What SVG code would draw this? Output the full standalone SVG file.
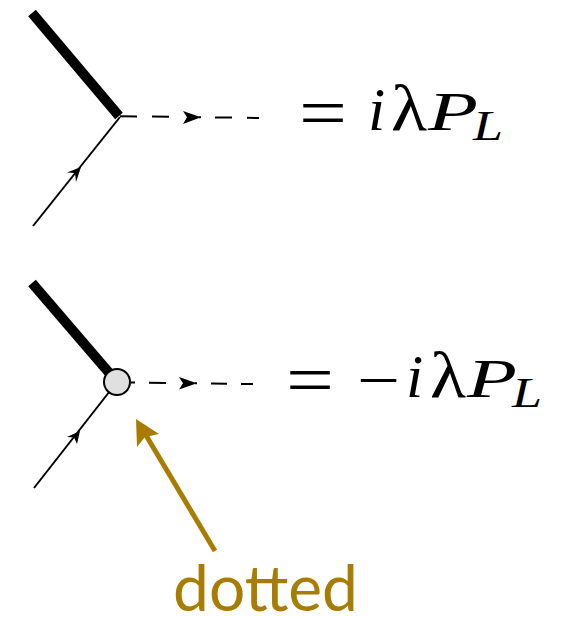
<svg xmlns="http://www.w3.org/2000/svg" width="572" height="617" viewBox="0 0 572 617">
<style>
.thick{stroke:#000;stroke-width:10;fill:none}
.thin{stroke:#000;stroke-width:2;fill:none}
.dash{stroke:#000;stroke-width:2;fill:none}
.m{font-family:"Liberation Serif","DejaVu Serif",serif;fill:#000}
.eq{font-size:72px}
.minus{font-size:62px}
.i{font-size:62px;font-style:italic}
.l{font-size:66px}
.p{font-size:55px;font-style:italic}
.sub{font-size:42px;font-style:italic}
.gold{fill:#a87c00}
</style>
<rect width="572" height="617" fill="#fff"/>
<g id="connectors">
<path class="thick" d="M32 13L119 116"/>
<path class="thin" d="M33 226L120 117"/>
<path class="dash" d="M120 116.200L137 116.400M152 116.600L169 116.800M199 117.200L201 117.200M215 117.400L232 117.600M247 117.800L259 118"/>
<polygon points="201,117.300 183,111 187,117.300 183,124"/>
<polygon points="81,167 67,172.500 75,173 76,182"/>
<path class="thick" d="M32 283L117 382"/>
<path class="thin" d="M34 488L117 382"/>
<path class="dash" d="M131 382.400L135 382.500M149 382.800L166 383M195 383.300L197 383.300M211 383.500L227 383.700M241 383.900L253 384"/>
<polygon points="197,383.300 179,377 183,383.300 179,389.500"/>
<polygon points="80,431 67,437 74,437.500 77,444"/>
<path d="M215 551L144 432" stroke="#a87c00" stroke-width="5" fill="none"/>
<polygon class="gold" points="136,419 159,434 145,437 137,447"/>
</g>
<g id="dot">
<circle cx="117" cy="382" r="13" fill="#e0e0e0" stroke="#000" stroke-width="2"/>
</g>
<g id="eq1">
<text class="m eq" x="299" y="137" textLength="48" lengthAdjust="spacingAndGlyphs">=</text>
<text class="m i" x="368" y="130">i</text>
<text class="m l" x="391" y="130" textLength="36" lengthAdjust="spacingAndGlyphs">λ</text>
<text class="m p" x="428" y="130" textLength="50" lengthAdjust="spacingAndGlyphs">P</text>
<text class="m sub" x="473" y="140" textLength="30" lengthAdjust="spacingAndGlyphs">L</text>
</g>
<g id="eq2">
<text class="m eq" x="286" y="404" textLength="48" lengthAdjust="spacingAndGlyphs">=</text>
<text class="m minus" x="357" y="401" textLength="43" lengthAdjust="spacingAndGlyphs">−</text>
<text class="m i" x="406" y="397">i</text>
<text class="m l" x="430" y="397" textLength="36" lengthAdjust="spacingAndGlyphs">λ</text>
<text class="m p" x="467" y="397" textLength="50" lengthAdjust="spacingAndGlyphs">P</text>
<text class="m sub" x="512" y="407" textLength="30" lengthAdjust="spacingAndGlyphs">L</text>
</g>
<g id="label">
<text class="gold" x="173" y="611" font-family="Lato,'Open Sans',sans-serif" font-size="64" textLength="185" lengthAdjust="spacingAndGlyphs">dotted</text>
</g>
</svg>
